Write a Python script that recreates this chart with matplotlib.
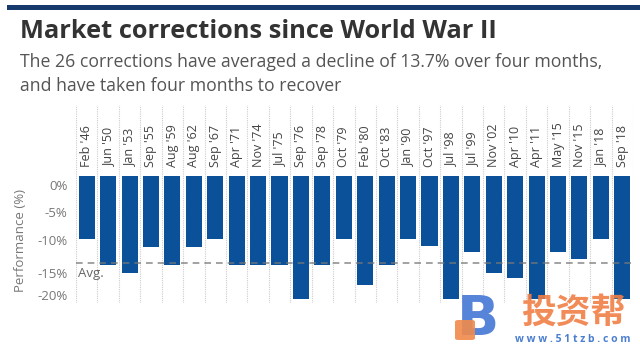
import matplotlib
matplotlib.use("Agg")
import matplotlib.pyplot as plt
from matplotlib.patches import Rectangle, FancyBboxPatch

months = ["Feb '46", "Jun '50", "Jan '53", "Sep '55", "Aug '59", "Aug '62", "Sep '67",
          "Apr '71", "Nov '74", "Jul '75", "Sep '76", "Sep '78", "Oct '79", "Feb '80",
          "Oct '83", "Jan '90", "Oct '97", "Jul '98", "Jul '99", "Nov '02", "Apr '10",
          "Apr '11", "May '15", "Nov '15", "Jan '18", "Sep '18"]
perf = [-10.0, -14.0, -15.2, -11.2, -14.0, -11.2, -10.0, -14.0, -14.0, -14.0, -19.3,
        -14.0, -10.0, -17.2, -14.0, -10.0, -11.0, -19.3, -12.0, -15.2, -16.1, -19.3,
        -12.0, -13.1, -10.0, -19.3]
avg = -13.7
tick_labels = ["0%", "-5%", "-10%", "-15%", "-20%"]

plt.rcParams['font.family'] = ['Open Sans', 'DejaVu Sans']

W, H = 640, 358
fig = plt.figure(figsize=(6.4, 3.58), dpi=100)

# top rule
fig.add_artist(Rectangle((7 / W, 1 - 10 / H), 1, 5 / H, transform=fig.transFigure,
                         color="#173a6c", lw=0))

fig.text(20 / W, 1 - 38 / H, "Market corrections since World War II", fontsize=18.3,
         fontweight="bold", color="#333333", va="baseline")
fig.text(20 / W, 1 - 67 / H,
         "The 26 corrections have averaged a decline of 13.7% over four months,",
         fontsize=12.7, color="#555555", va="baseline")
fig.text(20 / W, 1 - 91 / H, "and have taken four months to recover",
         fontsize=12.7, color="#555555", va="baseline")

ax = fig.add_axes([76 / W, 1 - 303 / H, (633 - 76) / W, (303 - 105) / H])
x = list(range(len(months)))
ax.bar(x, perf, width=0.75, color="#0b5199", zorder=2)
ax.set_xlim(-0.5, len(months) - 0.5)
ax.set_ylim(-20, 11.18)

for k in range(len(months) + 1):
    ax.axvline(k - 0.5, color="#cccccc", lw=0.8, linestyle=(0, (1, 1)), zorder=1)

for xi, m in zip(x, months):
    ax.text(xi, 1.4, m, rotation=90, ha="center", va="bottom", fontsize=9,
            color="#444444")

ax.axhline(avg, color="#777777", lw=1.2, linestyle=(0, (4, 3)), alpha=0.8, zorder=3)
ax.text(-0.4, -15.3, "Avg.", ha="left", va="center", fontsize=9.5, color="#666666")

# labels in the original sit slightly off the data scale
ax.set_yticks([-1.4, -5.65, -10.05, -15.2, -18.7])
ax.set_yticklabels(tick_labels, fontsize=9.5, color="#777777")
ax.tick_params(axis="y", length=0, pad=6)
ax.set_xticks([])
ax.set_ylabel("Performance (%)", fontsize=9.5, color="#777777")
ax.yaxis.set_label_coords(-(76 - 27) / (633 - 76), (303 - 240) / (303 - 105))
for s in ax.spines.values():
    s.set_visible(False)

# watermark
fig.text(478 / W, 1 - 320 / H, "B", fontsize=40, fontweight="bold", color="#4477d4",
         ha="center", va="center", family=["DejaVu Sans"], alpha=0.9, zorder=5)
fig.add_artist(FancyBboxPatch((455 / W, 1 - 340 / H), 20 / W, 20 / H,
                              boxstyle="round,pad=0,rounding_size=0.005",
                              transform=fig.transFigure, color="#f08a4b", lw=0,
                              alpha=0.9, zorder=6))
fig.text(573 / W, 1 - 312 / H, "投资帮", fontsize=25, fontweight="bold",
         color="#f07f45", ha="center", va="center", family=["Noto Sans CJK SC"],
         alpha=0.9, zorder=5)
fig.text(573 / W, 1 - 340 / H, "w w w . 5 1 t z b . c o m", fontsize=7.5,
         fontweight="bold", color="#4a7fd0", ha="center", va="center", zorder=5)

fig.savefig("out.png", dpi=100)
